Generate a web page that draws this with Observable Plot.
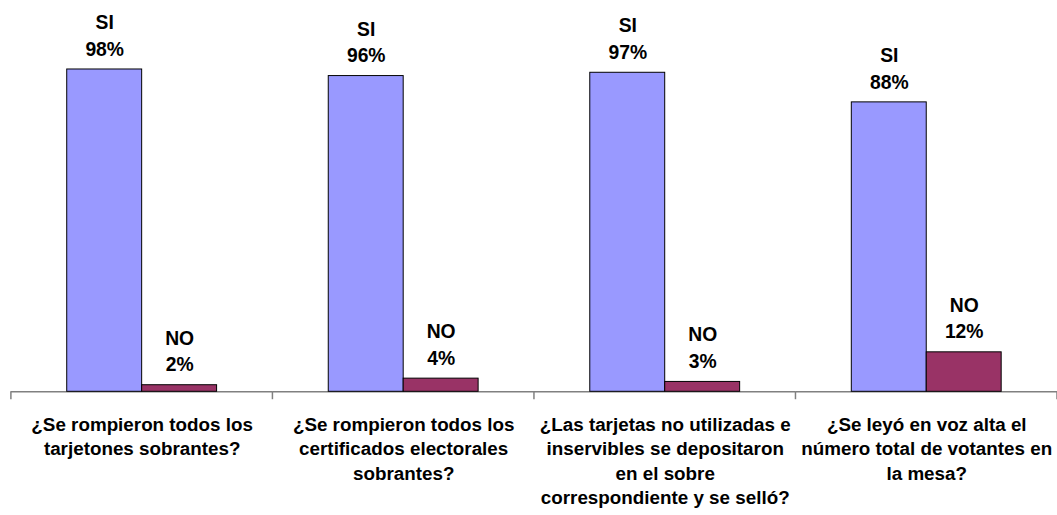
<!DOCTYPE html>
<html><head><meta charset="utf-8">
<script src="https://cdn.jsdelivr.net/npm/d3@7"></script>
<script src="https://cdn.jsdelivr.net/npm/@observablehq/plot@0.6"></script>
<style>html,body{margin:0;padding:0;overflow:hidden;background:#fff}</style>
</head><body><div id="chart"></div>
<script>
const categories = ["C1", "C2", "C3", "C4"];
const categoryLabels = [
  "¿Se rompieron todos los\ntarjetones sobrantes?",
  "¿Se rompieron todos los\ncertificados electorales\nsobrantes?",
  "¿Las tarjetas no utilizadas e\ninservibles se depositaron\nen el sobre\ncorrespondiente y se selló?",
  "¿Se leyó en voz alta el\nnúmero total de votantes en\nla mesa?"
];
const series = ["SI", "NO"];
const siValues = [98, 96, 97, 88];
const noValues = [2, 4, 3, 12];
const colors = ["#9999FF", "#993366"];

const data = categories.flatMap((c, i) => [
  {category: c, serie: "SI", value: siValues[i]},
  {category: c, serie: "NO", value: noValues[i]}
]);
const labelData = categories.map((c, i) => ({category: c, label: categoryLabels[i]}));

const chart = Plot.plot({
  width: 1067, height: 515,
  marginLeft: 11, marginRight: 0, marginTop: 63, marginBottom: 120,
  style: {fontFamily: "'Liberation Sans', Arial, sans-serif", fontSize: "19px", fontWeight: "bold", color: "#000", background: "#fff"},
  fx: {domain: categories, paddingInner: 0, paddingOuter: 0, round: false, axis: null},
  x: {domain: series, paddingInner: 0, paddingOuter: 0.745, round: false, axis: null},
  y: {domain: [0, 100], axis: null},
  color: {domain: series, range: colors},
  marks: [
    Plot.ruleY([0], {stroke: "#808080", strokeWidth: 1.5}),
    Plot.barY(data, {fx: "category", x: "serie", y: "value", fill: "serie", stroke: "#000", strokeWidth: 1}),
    Plot.text(data, {fx: "category", x: "serie", y: "value", text: d => `${d.serie}\n${d.value}%`, lineAnchor: "bottom", dy: -14, lineHeight: 1.38, fill: "#000", fontSize: 19.5}),
    Plot.text(labelData, {fx: "category", frameAnchor: "bottom", lineAnchor: "top", dy: 22, text: "label", lineHeight: 1.3, fill: "#000"})
  ]
});

// boundary tick marks along the category axis, from the library's fx/y scales
const fx = chart.scale("fx");
const y = chart.scale("y");
const y0 = y.apply(0);
const bounds = categories.map(c => fx.apply(c)).concat([fx.apply(categories[categories.length - 1]) + fx.bandwidth]);
d3.select(chart).append("g")
  .selectAll("line").data(bounds).join("line")
  .attr("x1", d => d).attr("x2", d => d)
  .attr("y1", y0).attr("y2", y0 + 8)
  .attr("stroke", "#808080").attr("stroke-width", 1.5);

document.getElementById("chart").appendChild(chart);
</script>
</body></html>
